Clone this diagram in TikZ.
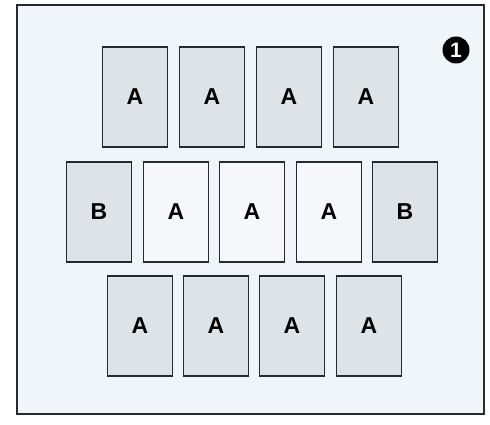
\documentclass[tikz,border=0pt]{standalone}
\usepackage{fontspec}
\setmainfont{Liberation Sans}
\usepackage{xcolor}
\usepackage{tikz}

\definecolor{paper}{rgb}{0.94,0.96,0.98}
\definecolor{cellgray}{rgb}{0.87,0.89,0.91}
\definecolor{cellwhite}{rgb}{0.96,0.97,0.98}
\definecolor{edge}{rgb}{0.15,0.16,0.18}

\tikzset{
  cell/.style={draw=edge, line width=1.1pt, minimum width=65pt, minimum height=100pt,
    inner sep=0pt, font=\bfseries\fontsize{23}{23}\selectfont},
  grayA/.style={cell, fill=cellgray},
  whiteA/.style={cell, fill=cellwhite},
  grayB/.style={cell, fill=cellgray},
}

\begin{document}
\begin{tikzpicture}[x=1pt, y=-1pt]
\useasboundingbox[fill=white] (0,0) rectangle (490,425);

% Outer frame
\draw[draw=edge, line width=1.5pt, fill=paper] (17,5) rectangle (484,414);

% Top row
\node[grayA] (top1) at (135,97) {A};
\node[grayA] (top2) at (212,97) {A};
\node[grayA] (top3) at (289,97) {A};
\node[grayA] (top4) at (366,97) {A};

% Middle row
\node[grayB] (midB1) at (99,212) {B};
\node[whiteA] (mid1) at (176,212) {A};
\node[whiteA] (mid2) at (252,212) {A};
\node[whiteA] (mid3) at (329,212) {A};
\node[grayB] (midB2) at (405,212) {B};

% Bottom row
\node[grayA] (bot1) at (140,326) {A};
\node[grayA] (bot2) at (216,326) {A};
\node[grayA] (bot3) at (292,326) {A};
\node[grayA] (bot4) at (369,326) {A};

% Step number
\node[circle, fill=black, text=white, minimum size=27pt, inner sep=0pt,
  font=\bfseries\fontsize{21}{21}\selectfont] (stepnum) at (456,50) {1};

\end{tikzpicture}
\end{document}
